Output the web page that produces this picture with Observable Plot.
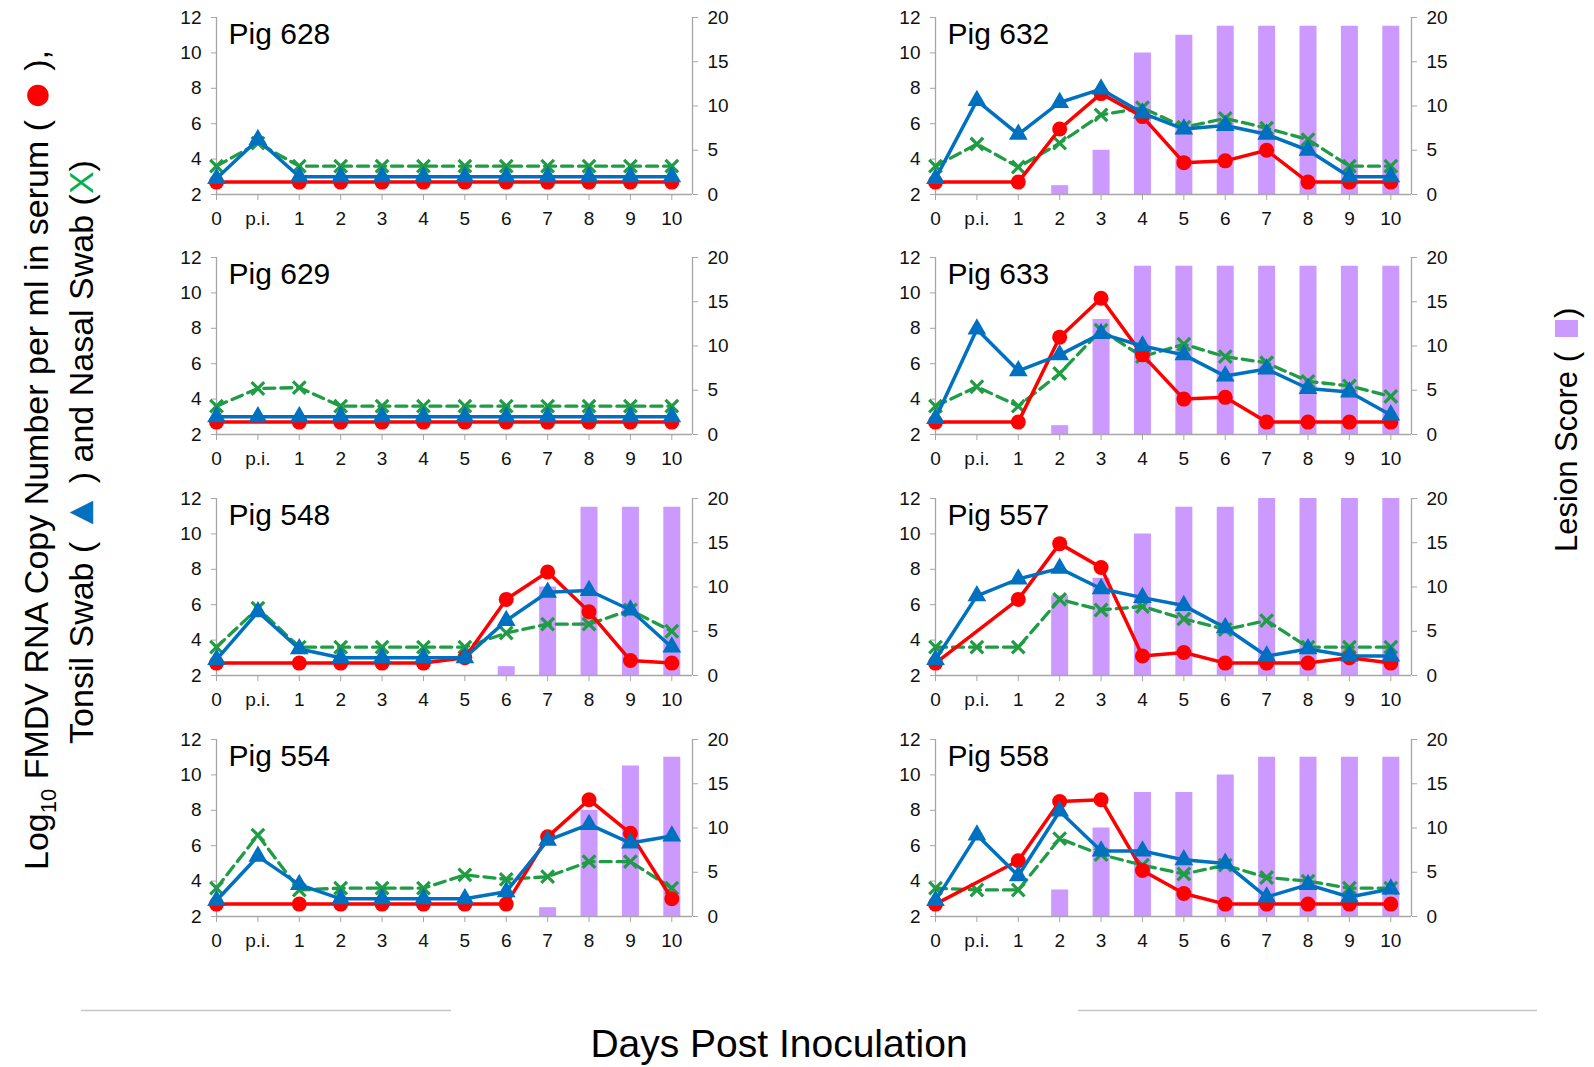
<!DOCTYPE html>
<html><head><meta charset="utf-8">
<script src="https://cdn.jsdelivr.net/npm/d3@7"></script>
<script src="https://cdn.jsdelivr.net/npm/@observablehq/plot@0.6"></script>
<style>
body{margin:0;background:#fff;font-family:"Liberation Sans",Arial,sans-serif;}
#wrap{position:relative;width:1594px;height:1067px;overflow:hidden;background:#fff;}
.panel{position:absolute;width:606px;height:232px;}
.panel svg{position:absolute;left:0;top:0;}
#titles{position:absolute;left:0;top:0;}
</style></head><body>
<div id="wrap"><svg id="titles" width="1594" height="1067"></svg></div>
<script>
// ---- categories and ticks ----
const days = ["0","p.i.","1","2","3","4","5","6","7","8","9","10"];
const leftTicks = [2,4,6,8,10,12];
const rightTicks = [0,5,10,15,20];

// ---- Pig 628 ----
const serum628  = [2.7,null,2.7,2.7,2.7,2.7,2.7,2.7,2.7,2.7,2.7,2.7];
const tonsil628 = [2.9,5.1,3.0,3.0,3.0,3.0,3.0,3.0,3.0,3.0,3.0,3.0];
const nasal628  = [3.6,4.9,3.6,3.6,3.6,3.6,3.6,3.6,3.6,3.6,3.6,3.6];
const lesion628 = [0,0,0,0,0,0,0,0,0,0,0,0];
// ---- Pig 632 ----
const serum632  = [2.7,null,2.7,5.7,7.7,6.4,3.8,3.9,4.5,2.7,2.7,2.7];
const tonsil632 = [2.9,7.3,5.4,7.2,7.95,6.6,5.7,5.9,5.4,4.5,3.0,3.0];
const nasal632  = [3.6,4.85,3.55,4.9,6.5,6.9,5.8,6.3,5.75,5.1,3.6,3.6];
const lesion632 = [0,0,0,1,5,16,18,19,19,19,19,19];
// ---- Pig 629 ----
const serum629  = [2.7,null,2.7,2.7,2.7,2.7,2.7,2.7,2.7,2.7,2.7,2.7];
const tonsil629 = [3.0,3.0,3.0,3.0,3.0,3.0,3.0,3.0,3.0,3.0,3.0,3.0];
const nasal629  = [3.6,4.6,4.65,3.6,3.6,3.6,3.6,3.6,3.6,3.6,3.6,3.6];
const lesion629 = [0,0,0,0,0,0,0,0,0,0,0,0];
// ---- Pig 633 ----
const serum633  = [2.7,null,2.7,7.5,9.7,6.5,4.0,4.1,2.7,2.7,2.7,2.7];
const tonsil633 = [2.9,7.95,5.6,6.5,7.7,7.0,6.5,5.3,5.7,4.6,4.4,3.1];
const nasal633  = [3.6,4.7,3.6,5.45,7.9,6.4,7.1,6.4,6.05,5.0,4.75,4.15];
const lesion633 = [0,0,0,1,13,19,19,19,19,19,19,19];
// ---- Pig 548 ----
const serum548  = [2.7,null,2.7,2.7,2.7,2.7,3.0,6.3,7.85,5.6,2.85,2.7];
const tonsil548 = [2.9,5.6,3.5,3.0,3.0,3.0,3.0,5.1,6.7,6.8,5.7,3.6];
const nasal548  = [3.6,5.8,3.6,3.6,3.6,3.6,3.6,4.4,4.9,4.9,5.7,4.5];
const lesion548 = [0,0,0,0,0,0,0,1,10,19,19,19];
// ---- Pig 557 ----
const serum557  = [2.7,null,6.3,9.45,8.1,3.1,3.3,2.7,2.7,2.7,3.0,2.7];
const tonsil557 = [2.9,6.5,7.45,8.05,6.9,6.4,5.95,4.7,3.1,3.5,3.1,3.1];
const nasal557  = [3.6,3.6,3.6,6.3,5.7,5.9,5.2,4.6,5.1,3.6,3.6,3.6];
const lesion557 = [0,0,0,9,11,16,19,19,20,20,20,20];
// ---- Pig 554 ----
const serum554  = [2.7,null,2.7,2.7,2.7,2.7,2.7,2.7,6.5,8.6,6.7,3.0];
const tonsil554 = [2.9,5.4,3.8,3.0,3.0,3.0,3.0,3.4,6.3,7.2,6.15,6.55];
const nasal554  = [3.6,6.6,3.5,3.6,3.6,3.6,4.35,4.1,4.25,5.1,5.1,3.6];
const lesion554 = [0,0,0,0,0,0,0,0,1,12,17,18];
// ---- Pig 558 ----
const serum558  = [2.7,null,5.15,8.5,8.6,4.6,3.3,2.7,2.7,2.7,2.7,2.7];
const tonsil558 = [2.9,6.6,4.3,7.95,5.7,5.7,5.2,5.0,3.1,3.8,3.1,3.55];
const nasal558  = [3.6,3.5,3.5,6.4,5.5,4.9,4.4,4.9,4.2,4.0,3.6,3.6];
const lesion558 = [0,0,0,3,10,14,14,16,18,18,18,18];

const panels = [
  {name:"Pig 628", col:0, row:0, serum:serum628, tonsil:tonsil628, nasal:nasal628, lesion:lesion628},
  {name:"Pig 632", col:1, row:0, serum:serum632, tonsil:tonsil632, nasal:nasal632, lesion:lesion632},
  {name:"Pig 629", col:0, row:1, serum:serum629, tonsil:tonsil629, nasal:nasal629, lesion:lesion629},
  {name:"Pig 633", col:1, row:1, serum:serum633, tonsil:tonsil633, nasal:nasal633, lesion:lesion633},
  {name:"Pig 548", col:0, row:2, serum:serum548, tonsil:tonsil548, nasal:nasal548, lesion:lesion548},
  {name:"Pig 557", col:1, row:2, serum:serum557, tonsil:tonsil557, nasal:nasal557, lesion:lesion557},
  {name:"Pig 554", col:0, row:3, serum:serum554, tonsil:tonsil554, nasal:nasal554, lesion:lesion554},
  {name:"Pig 558", col:1, row:3, serum:serum558, tonsil:tonsil558, nasal:nasal558, lesion:lesion558}
];

const RED="#ff0000", BLUE="#0070c0", GREEN="#1f9c44", BAR="#cc99ff", AXIS="#a6a6a6";
const FONT='"Liberation Sans", Arial, sans-serif';
const W=606, H=232, ML=60, MR=70, MT=15, MB=40;
const colLeft=[155.5, 875], rowTop=[1.5, 242, 483, 724];

const wrap=document.getElementById("wrap");
for (const p of panels) {
  const rows = days.map((d,i)=>({i, day:d, serum:p.serum[i], tonsil:p.tonsil[i], nasal:p.nasal[i], lesion:p.lesion[i]}));
  const serumRows = rows.filter(d=>d.serum!=null);
  const common = {width:W, height:H, marginLeft:ML, marginRight:MR, marginTop:MT, marginBottom:MB,
    style:{background:"none", overflow:"visible", fontFamily:FONT},
    x:{type:"linear", domain:[0,11.5], axis:null}};
  const back = Plot.plot({...common, y:{domain:[0,20], axis:null}, marks:[
    Plot.ruleX(rows.filter(d=>d.lesion>0), {x:"i", y1:0, y2:"lesion", stroke:BAR, strokeWidth:17}),
    Plot.ruleX([11.5], {stroke:AXIS, strokeWidth:1.3}),
    Plot.axisY(rightTicks, {anchor:"right", tickSize:5, tickPadding:10, stroke:AXIS, fill:"#111", fontSize:19, label:null})
  ]});
  const front = Plot.plot({...common, y:{domain:[2,12], axis:null}, marks:[
    Plot.ruleX([0], {stroke:AXIS, strokeWidth:1.3}),
    Plot.ruleY([2], {stroke:AXIS, strokeWidth:1.3}),
    Plot.axisY(leftTicks, {anchor:"left", tickSize:5, tickPadding:10, stroke:AXIS, fill:"#111", fontSize:19, label:null}),
    Plot.axisX(d3.range(days.length), {anchor:"bottom", tickSize:6, tickPadding:11, tickFormat:i=>days[i], stroke:AXIS, fill:"#111", fontSize:19, label:null}),
    Plot.line(rows, {x:"i", y:"nasal", stroke:GREEN, strokeWidth:3.3, strokeDasharray:"11,6"}),
    Plot.dot(rows, {x:"i", y:"nasal", symbol:"times", r:5.8, stroke:GREEN, strokeWidth:3.2}),
    Plot.line(serumRows, {x:"i", y:"serum", stroke:RED, strokeWidth:3.5}),
    Plot.dot(serumRows, {x:"i", y:"serum", r:7.5, fill:RED}),
    Plot.line(rows, {x:"i", y:"tonsil", stroke:BLUE, strokeWidth:3.5}),
    Plot.dot(rows, {x:"i", y:"tonsil", symbol:"triangle", r:6, fill:BLUE, stroke:BLUE, strokeWidth:1.5}),
    Plot.text([p.name], {frameAnchor:"top-left", dx:12, dy:5, fontSize:30, fill:"#000", textAnchor:"start"})
  ]});
  const div=document.createElement("div");
  div.className="panel";
  div.style.left=colLeft[p.col]+"px";
  div.style.top=rowTop[p.row]+"px";
  div.appendChild(back); div.appendChild(front);
  wrap.appendChild(div);
}

// ---- titles ----
document.getElementById("titles").innerHTML = `
<g font-family='${FONT}' fill="#000" style="white-space:pre">
<text transform="translate(48,460) rotate(-90)" text-anchor="middle" font-size="34">Log<tspan font-size="22" dy="8">10</tspan><tspan dy="-8"> FMDV RNA Copy Number per ml in serum ( </tspan><tspan fill="${RED}" font-size="50" dy="4">●</tspan><tspan dy="-4"> ),</tspan></text>
<text transform="translate(93,452) rotate(-90)" text-anchor="middle" font-size="34">Tonsil Swab ( <tspan fill="${BLUE}" font-size="40">▲</tspan> ) and Nasal Swab (<tspan fill="#00b050">X</tspan>)</text>
<text transform="translate(1577,352) rotate(-90)" text-anchor="end" font-size="31">Lesion Score (</text>
<rect x="1555" y="320" width="23" height="17" fill="${BAR}"/>
<text transform="translate(1577,318) rotate(-90)" text-anchor="start" font-size="31">)</text>
<text x="779" y="1057" text-anchor="middle" font-size="39">Days Post Inoculation</text>
<line x1="81" x2="451" y1="1010.5" y2="1010.5" stroke="#c6c6c6" stroke-width="1.5"/>
<line x1="1078" x2="1537" y1="1010.5" y2="1010.5" stroke="#c6c6c6" stroke-width="1.5"/>
</g>`;
</script>
</body></html>
